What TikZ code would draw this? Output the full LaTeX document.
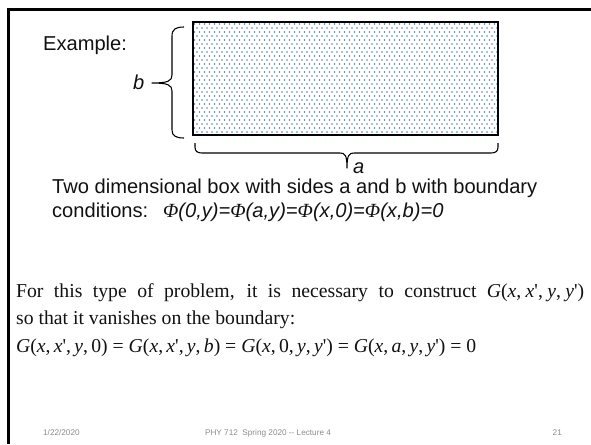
\documentclass[tikz,border=0pt]{standalone}
\usepackage{fontspec}
\setmainfont{Liberation Serif}
\setsansfont{Liberation Sans}
\newfontfamily\phifont{Liberation Serif}
\usetikzlibrary{calc}
\definecolor{slideink}{HTML}{111111}
\definecolor{slidequiet}{HTML}{8B8B8B}
\definecolor{platedot}{HTML}{4F7FBD}
\newcommand{\mi}[1]{\textit{#1}}
\newcommand{\pr}{\textquotesingle}
\newcommand{\Phis}{{\phifont\itshape Φ}}
\newcommand{\cm}{,\hspace{.22em}}
\tikzset{
  every picture/.style={font=\sffamily,text=slideink},
  slideframe/.style={draw=black,line width=3pt},
  sanslabel/.style={anchor=base west,inner sep=0pt,font=\sffamily\fontsize{24.5}{28}\selectfont},
  sidelabel/.style={sanslabel,font=\sffamily\itshape\fontsize{24.5}{28}\selectfont},
  seriflabel/.style={anchor=base west,inner sep=0pt,font=\rmfamily\fontsize{24}{28}\selectfont},
  footer/.style={inner sep=0pt,text=slidequiet,font=\sffamily\fontsize{10}{12}\selectfont},
  plate/.style={draw=black,line width=1.3pt},
  brace/.style={draw=black,line width=1.3pt,line join=round},
}
\begin{document}
\begin{tikzpicture}[x=1.2183pt,y=-1.2183pt]
  \path[use as bounding box] (0,0) rectangle (591,444);
  \draw[slideframe] (8.5,444) |- (591,9.5);
  % the box, filled with staggered dots
  \coordinate (plateNW) at (193,22);
  \coordinate (plateSE) at (498,135);
  \begin{scope}
    \clip (plateNW) rectangle (plateSE);
    \foreach \r in {0,...,28} {
      \pgfmathsetmacro\off{mod(\r,2)*2.5}
      \foreach \c in {0,...,61}
        \fill[platedot] ({194.5+\off+5*\c},{24+4*\r}) circle (0.8);
    }
  \end{scope}
  \draw[plate] (plateNW) rectangle (plateSE);
  % braces for the sides
  \draw[brace] (184,27) .. controls (176,27) and (172,29) .. (172,36) -- (172,75)
    .. controls (172,81) and (168,83) .. (152,83)
    .. controls (168,83) and (172,85) .. (172,91) -- (172,130)
    .. controls (172,136) and (176,138) .. (184,138);
  \draw[brace] (195,143) -- (195,147) .. controls (195,151) and (197,153) .. (202,153) -- (340,153)
    .. controls (345,153) and (347,155) .. (347,168)
    .. controls (347,155) and (349,153) .. (354,153) -- (491,153)
    .. controls (496,153) and (498,151) .. (498,147) -- (498,143);
  \node[sanslabel] (example) at (43,50) {Example:};
  \node[sidelabel] (bside) at (133,89) {b};
  \node[sidelabel] (aside) at (353,173) {a};
  \node[sanslabel] (boxtext) at (52,193) {Two dimensional box with sides a and b with boundary};
  \node[sanslabel] (condword) at (52,217) {conditions:};
  \node[sidelabel] (condeq) at (163,217)
    {\Phis(0,y)=\Phis(a,y)=\Phis(x,0)=\Phis(x,b)=0};
  % Green function text (first line justified)
  \node[seriflabel] (gline1) at (16,297)
    {\hbox to 692pt{For this type of problem, it is necessary to construct \mi{G}(\mi{x}\cm\mi{x}\pr\cm\mi{y}\cm\mi{y}\pr)}};
  \node[seriflabel] (gline2) at (16,324) {so that it vanishes on the boundary:};
  \node[seriflabel] (gline3) at (16,352)
    {\mi{G}(\mi{x},\,\mi{x}\pr,\,\mi{y},\,0) = \mi{G}(\mi{x},\,\mi{x}\pr,\,\mi{y},\,\mi{b}) = \mi{G}(\mi{x},\,0,\,\mi{y},\,\mi{y}\pr) = \mi{G}(\mi{x},\,\mi{a},\,\mi{y},\,\mi{y}\pr) = 0};
  % footer
  \node[footer,anchor=base west] (date) at (43,435) {1/22/2020};
  \node[footer,anchor=base] (course) at (268,435) {PHY 712\ \ Spring 2020 -{}- Lecture 4};
  \node[footer,anchor=base east] (pageno) at (562,435) {21};
\end{tikzpicture}
\end{document}
